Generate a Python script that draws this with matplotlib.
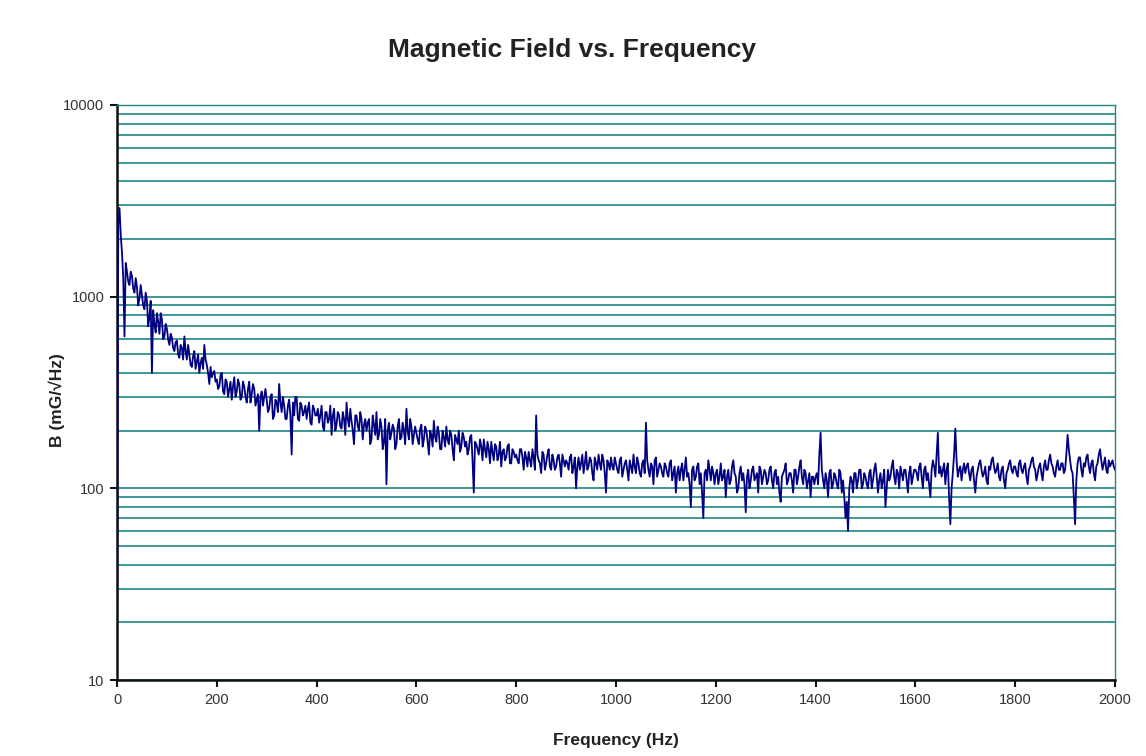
import numpy as np
import matplotlib
matplotlib.use("Agg")
import matplotlib.pyplot as plt
from matplotlib.ticker import LogLocator, FixedLocator, NullFormatter

# ---- data ----
freq_step_hz = 5  # main samples every 5 Hz, 0..2000 Hz
b_values = [
    # 0-95 Hz
    10, 2900, 1700, 620, 1350, 1150, 1280, 1050, 1120, 980, 1020, 860, 950, 780, 400, 720, 820, 640, 760, 620,
    # 100-195
    680, 560, 610, 520, 590, 480, 540, 620, 470, 500, 430, 520, 460, 400, 480, 560, 440, 350, 380, 410,
    # 200-295
    370, 340, 400, 310, 360, 330, 290, 380, 320, 350, 300, 340, 280, 360, 310, 330, 290, 200, 320, 300,
    # 300-395
    290, 260, 310, 240, 280, 350, 250, 270, 230, 290, 150, 240, 300, 225, 270, 250, 230, 280, 215, 260,
    # 400-495
    240, 220, 270, 200, 250, 230, 190, 260, 215, 240, 205, 230, 280, 210, 225, 170, 240, 200, 230, 215,
    # 500-595
    200, 230, 180, 215, 250, 190, 210, 175, 105, 220, 195, 205, 170, 230, 185, 200, 260, 180, 210, 190,
    # 600-695
    195, 170, 215, 180, 200, 150, 190, 225, 175, 195, 160, 185, 210, 170, 190, 140, 180, 200, 165, 185,
    # 700-795
    175, 160, 190, 95, 170, 150, 165, 180, 145, 160, 175, 140, 165, 150, 130, 160, 145, 170, 135, 155,
    # 800-895
    150, 135, 160, 125, 145, 155, 130, 145, 240, 140, 120, 150, 135, 160, 125, 140, 130, 150, 115, 140,
    # 900-995
    140, 125, 150, 130, 100, 145, 135, 120, 155, 130, 140, 110, 135, 150, 125, 140, 95, 135, 145, 125,
    # 1000-1095
    135, 120, 145, 125, 140, 110, 130, 150, 120, 135, 115, 140, 220, 125, 135, 105, 145, 125, 130, 115,
    # 1100-1195
    130, 115, 140, 120, 95, 130, 125, 110, 145, 120, 80, 130, 115, 135, 120, 70, 125, 140, 110, 120,
    # 1200-1295
    120, 105, 135, 115, 90, 125, 110, 140, 115, 100, 130, 120, 75, 125, 110, 130, 115, 95, 125, 115,
    # 1300-1395
    120, 110, 130, 100, 125, 115, 85, 120, 135, 110, 120, 95, 125, 115, 140, 105, 120, 110, 90, 115,
    # 1400-1495
    115, 105, 195, 110, 120, 90, 125, 105, 115, 100, 120, 110, 70, 60, 115, 95, 120, 110, 125, 105,
    # 1500-1595
    115, 100, 125, 110, 135, 95, 120, 110, 80, 125, 115, 140, 105, 120, 130, 110, 125, 95, 130, 115,
    # 1600-1695
    125, 110, 135, 100, 130, 120, 90, 140, 115, 195, 130, 125, 105, 135, 65, 120, 205, 115, 130, 125,
    # 1700-1795
    120, 135, 110, 130, 95, 125, 140, 115, 130, 105, 125, 145, 120, 135, 110, 130, 100, 125, 140, 120,
    # 1800-1895
    130, 115, 140, 120, 135, 105, 130, 145, 125, 120, 135, 110, 140, 125, 150, 130, 115, 140, 125, 135,
    # 1900-1995
    125, 190, 140, 120, 65, 135, 145, 115, 130, 150, 120, 140, 110, 135, 160, 125, 145, 120, 130, 140,
    # 2000
    125,
]
# in-between samples at 2.5, 7.5, ... 1997.5 Hz
b_values_mid = [
    2400, 2100, 1250, 1500, 1200, 1350, 1100, 1250, 900, 1150, 900, 1050, 700, 950, 850, 650, 740, 820, 600, 720,
    600, 640, 540, 580, 500, 560, 470, 520, 560, 440, 490, 420, 500, 450, 420, 470, 400, 430, 400, 360,
    330, 390, 320, 370, 300, 360, 340, 300, 370, 290, 360, 300, 330, 280, 350, 270, 310, 300, 270, 330,
    250, 300, 230, 290, 250, 280, 300, 230, 270, 240, 280, 300, 230, 280, 240, 270, 260, 220, 270, 240,
    260, 240, 210, 250, 220, 270, 240, 200, 250, 210, 250, 190, 230, 260, 200, 240, 210, 250, 180, 230,
    220, 170, 240, 190, 180, 230, 160, 230, 200, 180, 215, 160, 210, 180, 220, 170, 200, 230, 170, 210,
    180, 205, 165, 210, 175, 200, 165, 185, 210, 160, 200, 165, 180, 200, 160, 190, 170, 155, 195, 165,
    150, 185, 140, 175, 160, 180, 140, 160, 175, 135, 155, 170, 140, 175, 155, 140, 165, 135, 160, 145,
    140, 160, 145, 155, 130, 140, 160, 125, 150, 135, 155, 125, 150, 130, 150, 125, 145, 135, 150, 130,
    135, 145, 120, 145, 130, 125, 150, 135, 125, 145, 120, 145, 125, 135, 150, 120, 140, 125, 130, 145,
    125, 140, 115, 135, 125, 140, 120, 130, 145, 120, 135, 120, 140, 115, 130, 140, 115, 135, 120, 135,
    120, 135, 110, 130, 120, 110, 135, 125, 115, 105, 125, 110, 130, 105, 95, 120, 110, 125, 130, 105,
    125, 115, 110, 125, 115, 105, 130, 120, 95, 120, 110, 105, 115, 100, 125, 110, 120, 130, 105, 125,
    105, 125, 110, 120, 105, 95, 115, 125, 105, 120, 110, 125, 105, 130, 115, 125, 100, 120, 115, 105,
    120, 150, 125, 100, 110, 120, 100, 120, 105, 125, 95, 90, 85, 100, 110, 120, 100, 125, 100, 120,
    105, 120, 100, 125, 115, 110, 100, 125, 100, 110, 130, 115, 125, 100, 120, 125, 110, 120, 105, 125,
    120, 130, 115, 125, 110, 105, 125, 130, 150, 120, 115, 135, 125, 90, 100, 150, 140, 125, 110, 135,
    130, 120, 125, 110, 115, 135, 125, 120, 110, 130, 140, 130, 125, 115, 125, 110, 120, 135, 125, 130,
    120, 135, 125, 130, 115, 125, 140, 130, 110, 130, 120, 130, 125, 140, 135, 120, 130, 125, 135, 120,
    150, 160, 125, 90, 110, 145, 125, 135, 145, 130, 135, 120, 130, 150, 140, 135, 125, 140, 135, 130,
]
x_ticks = [0, 200, 400, 600, 800, 1000, 1200, 1400, 1600, 1800, 2000]
y_ticks = [10, 100, 1000, 10000]
title = "Magnetic Field vs. Frequency"
x_label = "Frequency (Hz)"
y_label = "B (mG/\u221aHz)"

freq_main = np.arange(len(b_values)) * freq_step_hz
freq_mid = np.arange(len(b_values_mid)) * freq_step_hz + freq_step_hz / 2
freq_all = np.concatenate([freq_main, freq_mid])
b_all = np.concatenate([np.asarray(b_values, float), np.asarray(b_values_mid, float)])
order = np.argsort(freq_all, kind='stable')
freq_all, b_all = freq_all[order], b_all[order]

plt.rcParams['font.family'] = ['Liberation Sans', 'DejaVu Sans']

fig = plt.figure(figsize=(11.46, 7.56), dpi=100)
ax = fig.add_axes([117/1146, 1 - 680/756, (1115-117)/1146, (680-105)/756])

grid_c = '#1f8585'
ax.plot(freq_all, b_all, color='#000080', lw=1.3, zorder=3)

ax.set_yscale('log')
ax.set_ylim(10, 10000)
ax.set_xlim(0, 2000)
ax.xaxis.set_major_locator(FixedLocator(x_ticks))
ax.yaxis.set_major_locator(FixedLocator(y_ticks))
ax.yaxis.set_minor_locator(LogLocator(base=10, subs=np.arange(2, 10)))
ax.yaxis.set_minor_formatter(NullFormatter())
ax.set_yticklabels([str(v) for v in y_ticks])
ax.set_xticklabels([str(v) for v in x_ticks])

ax.grid(True, which='both', axis='y', color=grid_c, lw=1.2, zorder=1)
ax.grid(False, axis='x')
ax.tick_params(axis='y', which='minor', length=0)
ax.tick_params(axis='both', which='major', direction='out', length=5, width=1.5,
               color='#111111', labelsize=10.5, labelcolor='#333333', pad=4)

for s in ['left', 'bottom']:
    ax.spines[s].set_color('#111111')
    ax.spines[s].set_linewidth(1.8)
for s in ['top', 'right']:
    ax.spines[s].set_color(grid_c)
    ax.spines[s].set_linewidth(1.0)

fig.text(572/1146, 1 - 50/756, title, ha='center', va='center',
         fontsize=19, fontweight='bold', color='#222222')
fig.text(616/1146, 1 - 740/756, x_label, ha='center', va='center',
         fontsize=12.5, fontweight='bold', color='#222222')
fig.text(57/1146, 1 - 400/756, y_label, ha='center', va='center', rotation=90,
         fontsize=12.5, fontweight='bold', color='#222222',
         family=['Liberation Sans', 'DejaVu Sans'])

fig.savefig('out.png', dpi=100, facecolor='white')
